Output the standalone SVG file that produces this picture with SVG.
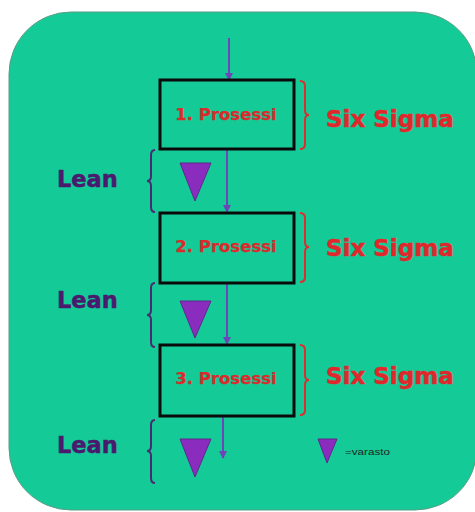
<svg xmlns="http://www.w3.org/2000/svg" width="475" height="512" viewBox="0 0 475 512">
<defs>
<style>
.proc{fill:none;stroke:#0a0a0a;stroke-width:3}
.ptxt{font-family:"DejaVu Sans",Verdana,sans-serif;font-weight:bold;font-size:16.5px;fill:#dc2a2c;stroke:#dc2a2c;stroke-width:0.25;text-anchor:middle}
.ss{font-family:"DejaVu Sans",Verdana,sans-serif;font-weight:bold;font-size:23px;fill:#e0282c;stroke:#e0282c;stroke-width:0.5}
.lean{font-family:"DejaVu Sans",Verdana,sans-serif;font-weight:bold;font-size:22.5px;fill:#4a1a6e;stroke:#4a1a6e;stroke-width:0.5}
.rb{fill:none;stroke:#d83030;stroke-width:2}
.lb{fill:none;stroke:#4a2a70;stroke-width:2}
.tri{fill:#8a2cbe;stroke:#5c2a88;stroke-width:1}
.conn{fill:none;stroke:#6a46b8;stroke-width:2}
</style>
<marker id="ah" markerWidth="8" markerHeight="8" refX="7" refY="4" orient="auto" markerUnits="userSpaceOnUse">
<path d="M0,0 L8,4 L0,8 z" fill="#6a46b8"/>
</marker>
</defs>
<rect x="9" y="12" width="468" height="498" rx="62" ry="62" fill="#14cb98" stroke="#5a9c84" stroke-width="1"/>
<g id="connectors">
<line class="conn" x1="229" y1="38" x2="229" y2="80" marker-end="url(#ah)"/>
<line class="conn" x1="227" y1="150" x2="227" y2="212" marker-end="url(#ah)"/>
<line class="conn" x1="227" y1="284" x2="227" y2="344" marker-end="url(#ah)"/>
<line class="conn" x1="223" y1="417" x2="223" y2="458" marker-end="url(#ah)"/>
</g>
<g id="proc1">
<rect class="proc" x="160" y="80" width="134" height="69"/>
<text class="ptxt" x="226" y="120">1. Prosessi</text>
</g>
<g id="proc2">
<rect class="proc" x="160" y="213" width="134" height="70"/>
<text class="ptxt" x="226" y="252">2. Prosessi</text>
</g>
<g id="proc3">
<rect class="proc" x="160" y="345" width="134" height="71"/>
<text class="ptxt" x="226" y="384">3. Prosessi</text>
</g>
<g id="sixsigma1">
<path class="rb" d="M300,81 Q305,81 305,86 L305,110 Q305,115 309,115 Q305,115 305,120 L305,144 Q305,149 300,149"/>
<text class="ss" x="326" y="127">Six Sigma</text>
</g>
<g id="sixsigma2">
<path class="rb" d="M300,213 Q305,213 305,218 L305,242 Q305,247 309,247 Q305,247 305,252 L305,277 Q305,282 300,282"/>
<text class="ss" x="326" y="256">Six Sigma</text>
</g>
<g id="sixsigma3">
<path class="rb" d="M300,345 Q305,345 305,350 L305,375 Q305,380 309,380 Q305,380 305,385 L305,410 Q305,415 300,415"/>
<text class="ss" x="326" y="384">Six Sigma</text>
</g>
<g id="lean1">
<path class="lb" d="M155,150 Q151,150 151,155 L151,176 Q151,181 147,181 Q151,181 151,186 L151,207 Q151,212 155,212"/>
<text class="lean" x="57" y="187">Lean</text>
<polygon class="tri" points="180,163 211,163 195,201"/>
</g>
<g id="lean2">
<path class="lb" d="M155,283 Q151,283 151,288 L151,310 Q151,315 147,315 Q151,315 151,320 L151,342 Q151,347 155,347"/>
<text class="lean" x="57" y="308">Lean</text>
<polygon class="tri" points="180,301 211,301 195,338"/>
</g>
<g id="lean3">
<path class="lb" d="M155,420 Q151,420 151,425 L151,446 Q151,451 147,451 Q151,451 151,456 L151,478 Q151,483 155,483"/>
<text class="lean" x="57" y="453">Lean</text>
<polygon class="tri" points="180,439 211,439 195,477"/>
</g>
<g id="legend">
<polygon class="tri" points="318,439 337,439 327,463"/>
<text x="345" y="455" font-family="Liberation Sans, Arial, sans-serif" font-size="9" fill="#222" textLength="45" lengthAdjust="spacingAndGlyphs">=varasto</text>
</g>
</svg>
